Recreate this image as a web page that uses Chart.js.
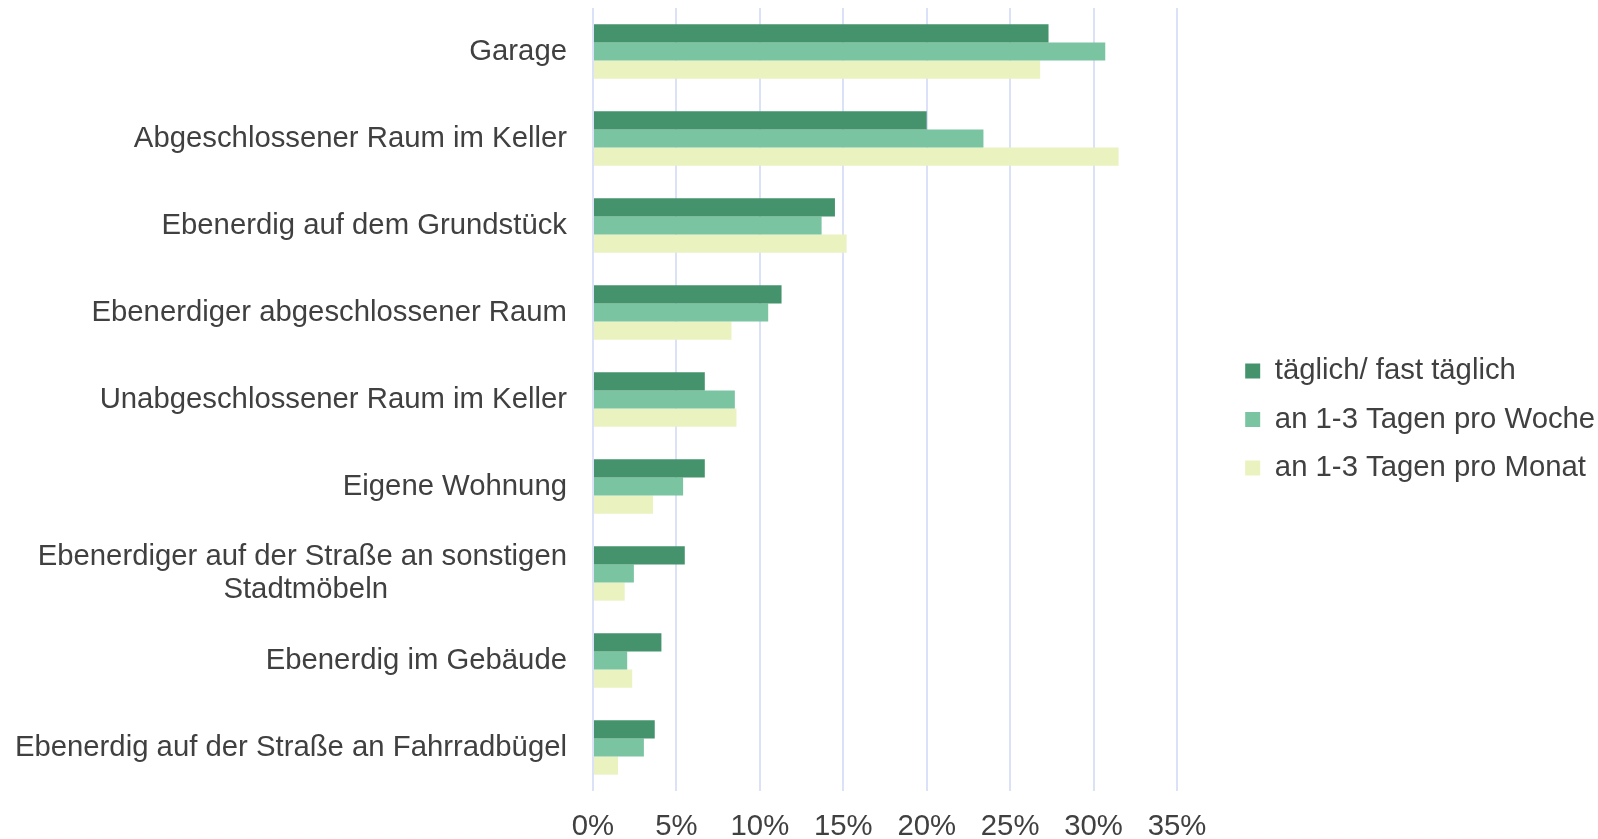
<!DOCTYPE html>
<html lang="de">
<head>
    <meta charset="UTF-8">
    <title>Abstellorte Fahrrad</title>
    <style>
        body { margin: 0; background: #fff; }
        #wrap { width: 1598px; height: 839px; position: relative; }
    </style>
</head>
<body>
    <div id="wrap">
        <canvas id="myChart"></canvas>
    </div>
    <script src="https://cdn.jsdelivr.net/npm/chart.js"></script>
    <script>
        // Abstellorte nach Nutzungshäufigkeit (Anteile in %)
        let categories = [
            'Garage',
            'Abgeschlossener Raum im Keller',
            'Ebenerdig auf dem Grundstück',
            'Ebenerdiger abgeschlossener Raum',
            'Unabgeschlossener Raum im Keller',
            'Eigene Wohnung',
            ['Ebenerdiger auf der Straße an sonstigen', 'Stadtmöbeln'],
            'Ebenerdig im Gebäude',
            'Ebenerdig auf der Straße an Fahrradbügel'
        ];
        let seriesNames = ['täglich/ fast täglich', 'an 1-3 Tagen pro Woche', 'an 1-3 Tagen pro Monat'];
        let daily   = [27.3, 20.0, 14.5, 11.3, 6.7, 6.7, 5.5, 4.1, 3.7];
        let weekly  = [30.7, 23.4, 13.7, 10.5, 8.5, 5.4, 2.45, 2.05, 3.05];
        let monthly = [26.8, 31.5, 15.2, 8.3, 8.6, 3.6, 1.9, 2.35, 1.5];
        let xTickLabels = ['0%', '5%', '10%', '15%', '20%', '25%', '30%', '35%'];

        let colors = ['#44936c', '#7ac4a1', '#eaf2c0'];
        let fontFamily = '"Liberation Sans", Arial, sans-serif';
        let fontSize = 29.3;
        let textColor = '#404040';

        // zweite Zeile mehrzeiliger Beschriftungen unter der ersten zentrieren
        let measure = document.createElement('canvas').getContext('2d');
        measure.font = fontSize + 'px ' + fontFamily;
        function centerLines(label) {
            if (!Array.isArray(label)) return label;
            let w0 = measure.measureText(label[0]).width;
            let sp = measure.measureText(' ').width;
            return label.map((line, i) => {
                if (i === 0) return line;
                let n = Math.round((w0 - measure.measureText(line).width) / 2 / sp);
                return line + ' '.repeat(Math.max(n, 0));
            });
        }
        let yLabels = categories.map(centerLines);

        // Legende etwas näher an den rechten Rand rücken
        let legendShift = {
            id: 'legendShift',
            afterLayout(chart) {
                let l = chart.legend;
                l.left = 1226;
                l.right = l.left + l.width;
            }
        };

        let ctx = document.getElementById('myChart');
        let myChart = new Chart(ctx, {
            type: 'bar',
            data: {
                labels: yLabels,
                datasets: [daily, weekly, monthly].map((d, i) => ({
                    label: seriesNames[i],
                    data: d,
                    backgroundColor: colors[i],
                    borderWidth: 0,
                    barPercentage: 1,
                    categoryPercentage: 0.624
                }))
            },
            plugins: [legendShift],
            options: {
                indexAxis: 'y',
                responsive: true,
                maintainAspectRatio: false,
                animation: false,
                layout: { padding: 0 },
                plugins: {
                    tooltip: { enabled: false },
                    legend: {
                        position: 'right',
                        labels: {
                            color: textColor,
                            font: { family: fontFamily, size: fontSize },
                            boxWidth: 15,
                            boxHeight: 15,
                            padding: 19.2
                        }
                    }
                },
                scales: {
                    x: {
                        min: 0,
                        max: 35,
                        ticks: {
                            stepSize: 5,
                            padding: 18,
                            color: textColor,
                            font: { family: fontFamily, size: fontSize },
                            callback: (v, i) => xTickLabels[i]
                        },
                        grid: { color: '#dbe1f7', lineWidth: 2, drawTicks: false },
                        border: { display: false },
                        afterFit: s => { s.height = 48; s.paddingRight = 421; }
                    },
                    y: {
                        ticks: {
                            padding: 26,
                            color: textColor,
                            font: { family: fontFamily, size: fontSize, lineHeight: 1.1 }
                        },
                        grid: { display: false, drawTicks: false },
                        border: { display: false },
                        afterFit: s => {
                            s.width = 593;
                            s.paddingTop = 8;
                            s.paddingBottom = 0;
                        }
                    }
                }
            }
        });
    </script>
</body>
</html>
